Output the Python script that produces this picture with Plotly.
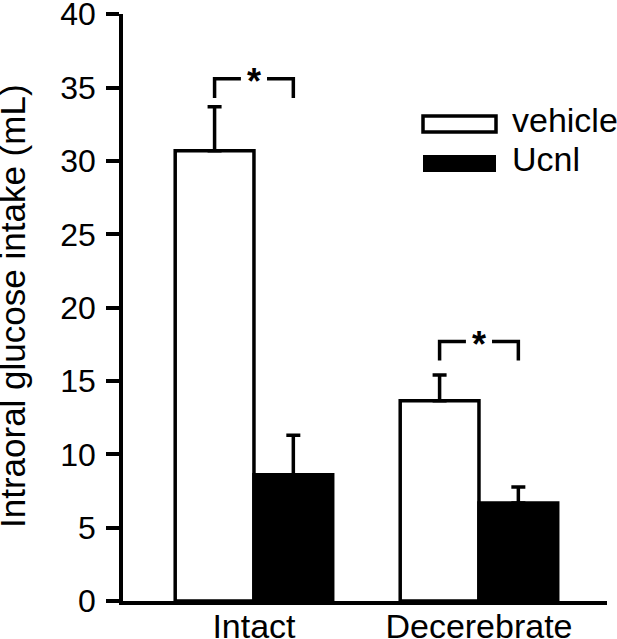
import plotly.graph_objects as go

categories = ["Intact", "Decerebrate"]
vehicle = [30.7, 13.65]
vehicle_err = [3.0, 1.75]
ucnl = [8.6, 6.68]
ucnl_err = [2.7, 1.1]
bracket_top = [35.6, 17.7]
bracket_leg = [34.3, 16.4]
y_ticks = [0, 5, 10, 15, 20, 25, 30, 35, 40]

FONT = "Liberation Sans, Arial, sans-serif"
FS = 34
TFS = 32
LW = 3.5

W, H = 617, 639
L, R, T, B = 123, 10, 14, 38
PW, PH = W - L - R, H - T - B


def px(x):
    return (x - L) / PW


def py(y):
    return (H - B - y) / PH


fig = go.Figure()
fig.add_trace(go.Bar(
    x=categories, y=vehicle, name="vehicle",
    marker=dict(color="white", line=dict(color="black", width=LW)),
    error_y=dict(type="data", array=vehicle_err, arrayminus=[0] * len(vehicle_err),
                 symmetric=False, thickness=LW, width=7, color="black"),
))
fig.add_trace(go.Bar(
    x=categories, y=ucnl, name="Ucnl",
    marker=dict(color="black", line=dict(color="black", width=LW)),
    error_y=dict(type="data", array=ucnl_err, arrayminus=[0] * len(ucnl_err),
                 symmetric=False, thickness=LW, width=7, color="black"),
))

half = 0.175
gap = 0.058
shapes = []
annotations = []
for i, (top, leg) in enumerate(zip(bracket_top, bracket_leg)):
    line = dict(color="black", width=LW)
    shapes.append(dict(type="path", xref="x", yref="y",
                       path=f"M {i-half},{leg} L {i-half},{top} L {i-gap},{top}",
                       line=line))
    shapes.append(dict(type="path", xref="x", yref="y",
                       path=f"M {i+gap},{top} L {i+half},{top} L {i+half},{leg}",
                       line=line))
    annotations.append(dict(x=i, y=top, xref="x", yref="y", text="<b>*</b>", showarrow=False,
                            font=dict(family=FONT, size=36, color="black"),
                            xanchor="center", yanchor="middle", yshift=-3))

# legend drawn manually
shapes.append(dict(type="rect", xref="paper", yref="paper",
                   x0=px(423), x1=px(496), y0=py(132), y1=py(116),
                   line=dict(color="black", width=LW), fillcolor="white"))
shapes.append(dict(type="rect", xref="paper", yref="paper",
                   x0=px(423), x1=px(496), y0=py(172), y1=py(155),
                   line=dict(color="black", width=0), fillcolor="black"))
annotations.append(dict(x=px(510), y=py(120), xref="paper", yref="paper", text="vehicle",
                        showarrow=False, xanchor="left", yanchor="middle",
                        font=dict(family=FONT, size=FS, color="black")))
annotations.append(dict(x=px(510), y=py(159), xref="paper", yref="paper", text="Ucnl",
                        showarrow=False, xanchor="left", yanchor="middle",
                        font=dict(family=FONT, size=FS, color="black")))
# y-axis title
annotations.append(dict(x=px(12), y=py(306), xref="paper", yref="paper",
                        text="Intraoral glucose intake (mL)", textangle=-90,
                        showarrow=False, xanchor="center", yanchor="middle",
                        font=dict(family=FONT, size=35, color="black")))

fig.update_layout(
    width=W, height=H,
    margin=dict(l=L, r=R, t=T, b=B, pad=0, autoexpand=False),
    paper_bgcolor="white", plot_bgcolor="white",
    barmode="group", bargap=0.3, bargroupgap=0,
    showlegend=False,
    font=dict(family=FONT, size=FS, color="black"),
    shapes=shapes, annotations=annotations,
    xaxis=dict(range=[-0.582, 1.569], showline=True, linecolor="black", linewidth=LW,
               ticks="", showgrid=False, zeroline=False, automargin=False,
               ticklabelstandoff=-8, ticklabeloverflow="allow",
               tickfont=dict(family=FONT, size=FS, color="black")),
    yaxis=dict(range=[0, 40.02], tickvals=y_ticks, showline=True, linecolor="black",
               linewidth=LW, ticks="outside", ticklen=13, tickwidth=LW, tickcolor="black",
               showgrid=False, zeroline=False, automargin=False, ticklabelstandoff=4,
               ticklabeloverflow="allow",
               tickfont=dict(family=FONT, size=TFS, color="black")),
)

fig.write_html("out.html", config={"displayModeBar": False},
               post_script="document.body.style.margin='0';")
